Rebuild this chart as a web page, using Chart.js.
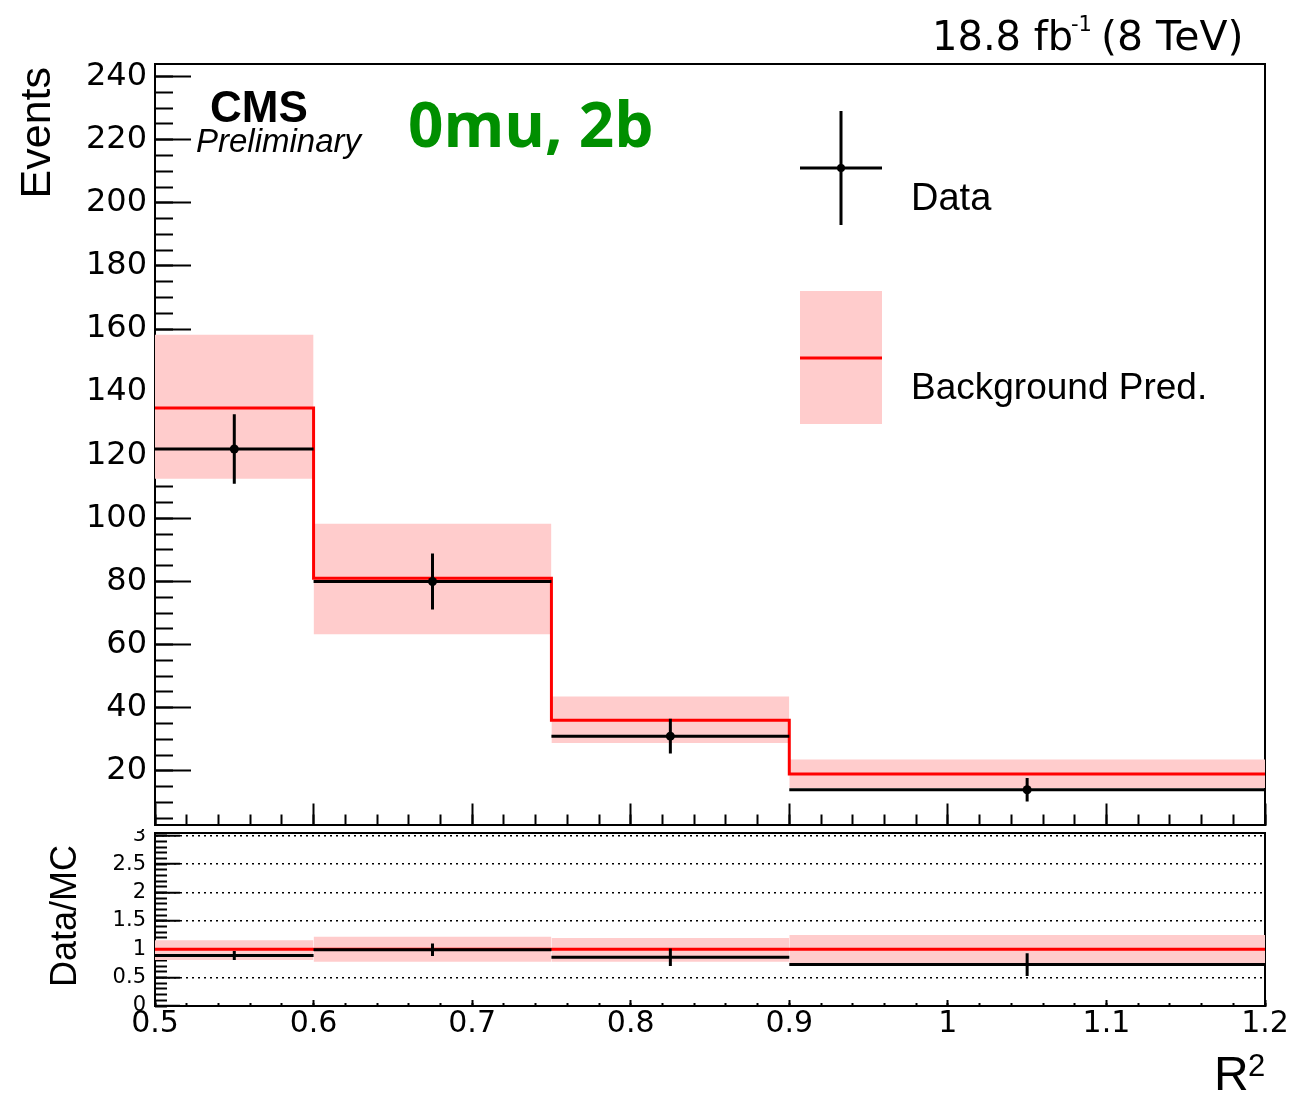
<!DOCTYPE html>
<html>
<head>
<meta charset="utf-8">
<script src="https://cdn.jsdelivr.net/npm/chart.js@4.4.1/dist/chart.umd.min.js"></script>
<style>
  html, body { margin: 0; padding: 0; background: #fff; }
  #wrap { position: relative; width: 1312px; height: 1096px; }
  #mainChart { position: absolute; left: 0; top: 0; }
  #ratioChart { position: absolute; left: 0; top: 829px; }
</style>
</head>
<body>
<div id="wrap">
  <canvas id="mainChart" width="1312" height="829"></canvas>
  <canvas id="ratioChart" width="1312" height="267"></canvas>
</div>
<script>
// R^2 bins
const binEdges = [0.5, 0.6, 0.75, 0.9, 1.2];
const binCenters = [0.55, 0.675, 0.825, 1.05];

// top panel: events
const dataEvents = [122, 80, 31, 14];
const dataErr = [11, 8.9, 5.5, 3.7];
const bkgPred = [135, 81, 36, 19];
const bkgLow = [112.6, 63.3, 28.8, 14.6];
const bkgHigh = [158.2, 98.3, 43.6, 23.6];

// bottom panel: Data/MC
const ratioVals = [0.89, 0.99, 0.86, 0.73];
const ratioErr = [0.08, 0.11, 0.155, 0.2];
const ratioBkg = [1, 1, 1, 1];
const ratioBandLow = [0.81, 0.78, 0.78, 0.76];
const ratioBandHigh = [1.16, 1.22, 1.2, 1.25];

// tick labels
const xTicks = [0.5, 0.6, 0.7, 0.8, 0.9, 1.0, 1.1, 1.2];
const xTickLabels = ['0.5', '0.6', '0.7', '0.8', '0.9', '1', '1.1', '1.2'];
const yTicks = [20, 40, 60, 80, 100, 120, 140, 160, 180, 200, 220, 240];
const yTickLabels = ['20', '40', '60', '80', '100', '120', '140', '160', '180', '200', '220', '240'];
const ratioTicks = [0, 0.5, 1, 1.5, 2, 2.5, 3];
const ratioTickLabels = ['0', '0.5', '1', '1.5', '2', '2.5', '3'];

const FONT = '"Liberation Sans", Arial, Helvetica, sans-serif';
const WIDE = '"DejaVu Sans", "Liberation Sans", Arial, sans-serif';
const PINK = '#ffcccc';
const RED = '#ff0000';

function stepList(a, b, step) {
    const out = [];
    const n = Math.round((b - a) / step);
    for (let i = 0; i <= n; i++) out.push({ value: +(a + i * step).toFixed(4) });
    return out;
}
function fixedTicks(values) {
    return function(s) { s.ticks = values.map(v => ({ value: v })); };
}
function noPad(s) { s.paddingTop = 0; s.paddingBottom = 0; s.paddingLeft = 0; s.paddingRight = 0; }
function setW(w) { return function(s) { s.width = w; noPad(s); }; }
function setH(h) { return function(s) { s.height = h; noPad(s); }; }
function tickGrid(len, extra) {
    return Object.assign({ display: true, drawOnChartArea: false, drawTicks: true,
        tickLength: len, tickColor: '#000', tickWidth: 2 }, extra || {});
}

// datasets built from arrays
function bandSets(lo, hi) {
    return lo.map((l, i) => ({
        data: [{ x: binEdges[i], y: hi[i] }, { x: binEdges[i + 1], y: hi[i] }],
        fill: { value: l },
        backgroundColor: PINK,
        borderColor: 'rgba(0,0,0,0)',
        borderWidth: 0,
        pointRadius: 0,
        order: 10
    }));
}
function stepSet(vals) {
    const pts = [];
    vals.forEach((v, i) => {
        pts.push({ x: binEdges[i], y: v }, { x: binEdges[i + 1], y: v });
    });
    return { data: pts, borderColor: RED, borderWidth: 3, pointRadius: 0, fill: false, order: 5 };
}
function hbarSet(vals) {
    const pts = [];
    vals.forEach((v, i) => {
        pts.push({ x: binEdges[i], y: v }, { x: binEdges[i + 1], y: v }, { x: binEdges[i + 1], y: null });
    });
    return { data: pts, borderColor: '#000', borderWidth: 3, pointRadius: 0, fill: false, spanGaps: false, order: 2 };
}
function vbarSet(vals, errs) {
    const pts = [];
    vals.forEach((v, i) => {
        pts.push({ x: binCenters[i], y: v - errs[i] }, { x: binCenters[i], y: v + errs[i] }, { x: binCenters[i], y: null });
    });
    return { data: pts, borderColor: '#000', borderWidth: 3, pointRadius: 0, fill: false, spanGaps: false, order: 2 };
}
function markerSet(vals, r) {
    return {
        data: vals.map((v, i) => ({ x: binCenters[i], y: v })),
        showLine: false, pointRadius: r, pointBackgroundColor: '#000', pointBorderWidth: 0, order: 1
    };
}

function frameScales(xmin, xmax, ymin, ymax) {
    return {
        xTop: { type: 'linear', position: 'top', min: xmin, max: xmax, ticks: { display: false },
            grid: { display: false }, border: { display: true, color: '#000', width: 2 }, afterFit: setH(0) },
        yRight: { type: 'linear', position: 'right', min: ymin, max: ymax, ticks: { display: false },
            grid: { display: false }, border: { display: true, color: '#000', width: 2 }, afterFit: setW(0) }
    };
}

const commonOpts = {
    responsive: false,
    maintainAspectRatio: false,
    animation: false,
    events: [],
    plugins: { legend: { display: false }, tooltip: { enabled: false } }
};

// annotations for top panel
const mainText = {
    id: 'mainText',
    afterDraw(chart) {
        const ctx = chart.ctx;
        ctx.save();
        ctx.fillStyle = '#000';
        ctx.textBaseline = 'alphabetic';

        ctx.save();
        ctx.translate(50, 67);
        ctx.rotate(-Math.PI / 2);
        ctx.font = '43px ' + FONT;
        ctx.textAlign = 'right';
        ctx.fillText('Events', 0, 0);
        ctx.restore();

        ctx.textAlign = 'left';
        ctx.font = 'bold 44px ' + FONT;
        ctx.fillText('CMS', 210, 122);
        ctx.font = 'italic 33px ' + FONT;
        ctx.fillText('Preliminary', 196, 152);

        ctx.fillStyle = '#008f00';
        ctx.font = 'bold 62px "Open Sans", ' + FONT;
        ctx.fillText('0mu, 2b', 408, 147);

        ctx.fillStyle = '#000';
        ctx.font = '40px ' + WIDE;
        ctx.fillText('18.8 fb', 932, 50);
        ctx.font = '21px ' + WIDE;
        ctx.fillText('-1', 1071, 31);
        ctx.font = '41px ' + WIDE;
        ctx.fillText('(8 TeV)', 1101, 50);

        // legend
        ctx.fillStyle = PINK;
        ctx.fillRect(800, 291, 82, 133);
        ctx.strokeStyle = RED;
        ctx.lineWidth = 3;
        ctx.beginPath(); ctx.moveTo(800, 358); ctx.lineTo(882, 358); ctx.stroke();
        ctx.strokeStyle = '#000';
        ctx.beginPath();
        ctx.moveTo(800, 168); ctx.lineTo(882, 168);
        ctx.moveTo(841, 111); ctx.lineTo(841, 225);
        ctx.stroke();
        ctx.fillStyle = '#000';
        ctx.beginPath(); ctx.arc(841, 168, 4, 0, Math.PI * 2); ctx.fill();
        ctx.font = '38px ' + FONT;
        ctx.fillText('Data', 911, 210);
        ctx.font = '37px ' + FONT;
        ctx.fillText('Background Pred.', 911, 399);
        ctx.restore();
    }
};

const ratioText = {
    id: 'ratioText',
    afterDraw(chart) {
        const ctx = chart.ctx;
        ctx.save();
        ctx.fillStyle = '#000';
        ctx.textBaseline = 'alphabetic';
        ctx.save();
        ctx.translate(76, 87);
        ctx.rotate(-Math.PI / 2);
        ctx.font = '36px ' + FONT;
        ctx.textAlign = 'center';
        ctx.fillText('Data/MC', 0, 0);
        ctx.restore();
        ctx.textAlign = 'left';
        ctx.font = '48px ' + FONT;
        ctx.fillText('R', 1214, 261);
        ctx.font = '31px ' + FONT;
        ctx.fillText('2', 1248, 247);
        ctx.restore();
    }
};

try {
    new Chart(document.getElementById('mainChart'), {
        type: 'line',
        data: {
            datasets: [].concat(
                bandSets(bkgLow, bkgHigh),
                [stepSet(bkgPred), hbarSet(dataEvents), vbarSet(dataEvents, dataErr), markerSet(dataEvents, 4.5)]
            )
        },
        options: Object.assign({}, commonOpts, {
            layout: { padding: { left: 0, right: 47, top: 64, bottom: 0 } },
            scales: Object.assign({
                x: { type: 'linear', position: 'bottom', weight: 1, min: 0.5, max: 1.2,
                    afterBuildTicks: fixedTicks(xTicks), ticks: { display: false },
                    grid: tickGrid(-21), border: { display: true, color: '#000', width: 2 }, afterFit: setH(4) },
                xMinor: { type: 'linear', position: 'bottom', weight: 0, min: 0.5, max: 1.2,
                    afterBuildTicks: s => { s.ticks = stepList(0.5, 1.2, 0.02); }, ticks: { display: false },
                    grid: tickGrid(-10), border: { display: false }, afterFit: setH(0) },
                y: { type: 'linear', position: 'left', weight: 1, min: 3, max: 244,
                    afterBuildTicks: fixedTicks(yTicks),
                    ticks: { padding: 44, autoSkip: false, color: '#000', font: { family: WIDE, size: 32 },
                        callback: (v, i) => yTickLabels[i] },
                    grid: tickGrid(-36), border: { display: true, color: '#000', width: 2 }, afterFit: setW(155) },
                yMinor: { type: 'linear', position: 'left', weight: 0, min: 3, max: 244,
                    afterBuildTicks: s => { s.ticks = stepList(5, 240, 5); }, ticks: { display: false },
                    grid: tickGrid(-18), border: { display: false }, afterFit: setW(0) }
            }, frameScales(0.5, 1.2, 3, 244))
        }),
        plugins: [mainText]
    });

    new Chart(document.getElementById('ratioChart'), {
        type: 'line',
        data: {
            datasets: [].concat(
                bandSets(ratioBandLow, ratioBandHigh),
                [stepSet(ratioBkg), hbarSet(ratioVals), vbarSet(ratioVals, ratioErr)]
            )
        },
        options: Object.assign({}, commonOpts, {
            layout: { padding: { left: 0, right: 47, top: 4, bottom: 0 } },
            scales: Object.assign({
                x: { type: 'linear', position: 'bottom', weight: 1, min: 0.5, max: 1.2,
                    afterBuildTicks: fixedTicks(xTicks),
                    ticks: { padding: 6, autoSkip: false, maxRotation: 0, color: '#000', font: { family: WIDE, size: 30 },
                        callback: (v, i) => xTickLabels[i] },
                    grid: tickGrid(-6), border: { display: true, color: '#000', width: 2 }, afterFit: setH(90) },
                xMinor: { type: 'linear', position: 'bottom', weight: 0, min: 0.5, max: 1.2,
                    afterBuildTicks: s => { s.ticks = stepList(0.5, 1.2, 0.02); }, ticks: { display: false },
                    grid: tickGrid(-3), border: { display: false }, afterFit: setH(0) },
                y: { type: 'linear', position: 'left', weight: 1, min: 0, max: 3.05,
                    afterBuildTicks: fixedTicks(ratioTicks),
                    ticks: { padding: 34, autoSkip: false, color: '#000', font: { family: WIDE, size: 21 },
                        callback: (v, i) => ratioTickLabels[i] },
                    grid: tickGrid(-25, { drawOnChartArea: true, color: '#000', lineWidth: 1.5 }),
                    border: { display: true, color: '#000', width: 2, dash: [2, 4] }, afterFit: setW(155) },
                yMinor: { type: 'linear', position: 'left', weight: 0, min: 0, max: 3.05,
                    afterBuildTicks: s => { s.ticks = stepList(0, 3, 0.1); }, ticks: { display: false },
                    grid: tickGrid(-12), border: { display: false }, afterFit: setW(0) }
            }, frameScales(0.5, 1.2, 0, 3.05))
        }),
        plugins: [ratioText]
    });
} catch (error) {
    console.error('Error al crear el gráfico:', error);
}
</script>
</body>
</html>
